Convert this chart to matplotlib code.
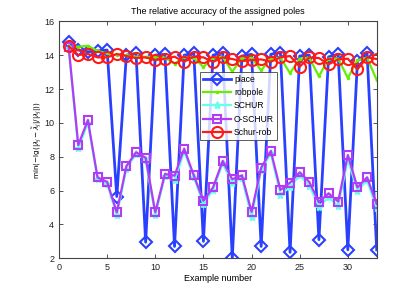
import numpy as np
import matplotlib
matplotlib.use("Agg")
import matplotlib.pyplot as plt

plt.rcParams['font.family'] = ['Liberation Sans', 'DejaVu Sans']
plt.rcParams['mathtext.fontset'] = 'dejavusans'

examples = list(range(1, 34))
place = [14.75, 14.3, 14.2, 14.25, 14.3, 5.65, 14.0, 14.1, 2.95, 14.0, 14.05, 2.7,
         14.0, 14.1, 3.0, 14.0, 14.15, 2.0, 13.95, 14.05, 2.7, 14.05, 14.15, 2.35,
         13.95, 14.0, 3.1, 13.9, 14.05, 2.5, 13.65, 14.15, 2.5]
robpole = [14.5, 14.5, 14.55, 14.25, 14.1, 14.0, 14.0, 13.9, 13.9, 13.9, 13.85, 13.5,
           13.9, 13.85, 13.3, 13.85, 13.9, 13.02, 13.85, 13.85, 13.1, 13.8, 13.85, 12.93,
           13.8, 13.85, 12.75, 13.8, 13.8, 12.65, 13.7, 13.85, 12.53]
schur = [14.45, 8.5, 10.0, 6.7, 6.4, 4.55, 7.3, 8.15, 7.8, 4.55, 6.85, 6.6,
         8.3, 6.8, 5.2, 6.05, 7.6, 6.45, 6.75, 4.45, 7.2, 8.2, 5.75, 6.2,
         6.9, 6.3, 5.05, 5.6, 5.1, 7.85, 6.0, 6.6, 4.95]
o_schur = [14.5, 8.69, 10.17, 6.78, 6.51, 4.72, 7.45, 8.26, 7.94, 4.72, 6.98, 6.88,
           8.48, 6.9, 5.4, 6.19, 7.75, 6.67, 6.9, 4.75, 7.35, 8.34, 6.04, 6.47,
           7.08, 6.51, 5.31, 5.84, 5.35, 8.1, 6.19, 6.78, 5.21]
schur_rob = [14.54, 14.01, 14.07, 13.87, 13.87, 14.07, 13.95, 13.83, 13.87, 13.71, 13.79, 13.91,
             13.61, 13.91, 13.87, 13.6, 13.87, 13.77, 13.65, 13.71, 13.75, 13.61, 13.87, 13.95,
             13.32, 13.87, 13.83, 13.46, 13.75, 13.79, 13.16, 13.87, 13.77]

title = "The relative accuracy of the assigned poles"
xlabel = "Example number"
ylabel = r"$\min(-\lg(|\lambda_j-\tilde{\lambda}_j|/|\lambda_j|))$"

fig = plt.figure(figsize=(4.15, 2.91), dpi=100)
ax = fig.add_axes([0.1422, 0.1124, 0.7655, 0.8144])

ax.plot(examples, place, color='#2a40ff', lw=2.0, marker='D', ms=6.5, mfc='none',
        mec='#2a40ff', mew=1.5, label='place')
ax.plot(examples, robpole, color='#66ee00', lw=1.6, marker='.', ms=3,
        label='robpole')
ax.plot(examples, schur, color='#66ffee', lw=1.6, marker='*', ms=6, mfc='#66ffee',
        label='SCHUR')
ax.plot(examples, o_schur, color='#b23cf5', lw=1.6, marker='s', ms=6, mfc='none',
        mew=1.5, label='O-SCHUR')
ax.plot(examples, schur_rob, color='#ff1a1a', lw=1.6, marker='o', ms=8, mfc='none',
        mew=1.5, label='Schur-rob')

ax.set_xlim(0, 33)
ax.set_ylim(2, 16)
ax.set_xticks([0, 5, 10, 15, 20, 25, 30])
ax.set_yticks([2, 4, 6, 8, 10, 12, 14, 16])
ax.tick_params(direction='in', top=True, right=True, labelsize=6.5, length=3,
               width=0.6, colors='#333333', labelcolor='#222222')
for s in ax.spines.values():
    s.set_linewidth(0.8)
    s.set_color('#444444')

ax.set_title(title, fontsize=6.5, pad=5)
ax.set_xlabel(xlabel, fontsize=6.5, labelpad=1)
ax.set_ylabel(ylabel, fontsize=5.2, labelpad=0)

leg = ax.legend(loc='upper left', bbox_to_anchor=(0.444, 0.787), fontsize=6.2,
                frameon=True, fancybox=False, edgecolor='#333333',
                borderpad=0.35, labelspacing=0.5, handlelength=3.2,
                handletextpad=0.4, borderaxespad=0)
leg.get_frame().set_linewidth(0.7)

fig.savefig('out.png', dpi=100)
